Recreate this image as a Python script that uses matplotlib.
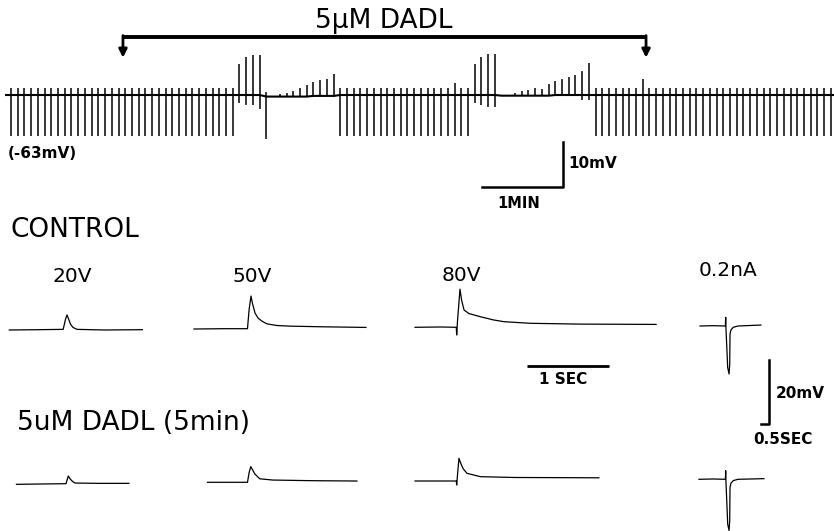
import numpy as np
import matplotlib.pyplot as plt

W, H = 834, 531

# ---- top chart recording: one stimulus every 5 s, mV relative to -63 mV ----
stim_interval = 5.0
pulse_up = ([1.6] * 34 + [6.9, 8.4, 8.9, 8.9] + [1.0] + [0.0]
            + [0.6, 0.7, 1.3, 1.8, 2.6, 3.2, 3.5, 3.8, 4.8]
            + [1.6] * 17 + [2.7] + [1.6] * 2
            + [7.0, 8.5, 9.1, 9.1] + [0.0, 0.0]
            + [0.6, 1.1, 1.3, 1.7, 1.5, 2.6, 3.2, 3.6, 3.9, 4.4, 5.4, 7.2]
            + [1.6] * 7 + [3.6] + [1.6] * 28)
pulse_down = ([-9.2] * 34 + [-1.8, -2.2, -2.2, -3.0] + [-9.4] + [0.0]
              + [0.0] * 8 + [-0.3]
              + [-9.2] * 20
              + [-1.7, -2.2, -2.6, -2.6] + [0.0, 0.0]
              + [0.0] * 10 + [-1.1, -1.1]
              + [-9.2] * 36)
pulse_base = ([0.0] * 38 + [-0.35] * 7 + [-0.2] * 4 + [0.0] * 24
              + [-0.15] * 8 + [0.0] * 42)
drug_on, drug_off = 83.3, 472.5      # s

# ---- evoked responses (time s from stimulus, mV from rest) ----
ctrl_20v_t = [-0.67, -0.3, -0.01, 0.02, 0.037, 0.055, 0.08, 0.11, 0.16, 0.5, 0.96]
ctrl_20v_v = [0.0, 0.1, 0.2, 3.5, 4.7, 3.5, 1.8, 0.8, 0.2, 0.0, 0.1]
ctrl_50v_t = [-0.665, -0.3, -0.01, 0.01, 0.033, 0.05, 0.082, 0.12, 0.17, 0.23, 0.35, 0.51, 0.9, 1.44]
ctrl_50v_v = [-0.1, 0.0, 0.0, 6.0, 10.2, 8.0, 4.9, 3.3, 2.3, 1.5, 1.0, 0.8, 0.6, 0.4]
ctrl_80v_t = [-0.51, -0.2, -0.005, 0.0, 0.01, 0.04, 0.06, 0.09, 0.15, 0.29, 0.45, 0.58, 0.9, 1.5, 2.44]
ctrl_80v_v = [0.0, 0.1, 0.0, -2.4, 2.0, 11.9, 8.5, 5.4, 4.3, 3.3, 2.3, 1.75, 1.25, 1.0, 0.9]
ctrl_na_t = [-1.6, -0.8, -0.02, 0.0, 0.01, 0.125, 0.21, 0.25, 0.27, 0.33, 0.475, 0.77, 2.2]
ctrl_na_v = [0.0, 0.1, 0.0, 2.7, 0.0, -13.0, -15.0, -12.0, -2.5, -1.2, -0.4, 0.0, 0.3]

dadl_20v_t = [-0.606, -0.3, 0.0, 0.028, 0.05, 0.08, 0.11, 0.4, 0.77]
dadl_20v_v = [-0.1, 0.0, 0.1, 2.5, 1.6, 0.8, 0.3, 0.2, 0.2]
dadl_50v_t = [-0.5, -0.01, 0.01, 0.03, 0.05, 0.08, 0.14, 0.3, 0.8, 1.33]
dadl_50v_v = [0.0, 0.0, 3.0, 4.9, 4.0, 2.6, 1.1, 0.7, 0.5, 0.4]
dadl_80v_t = [-0.51, -0.005, 0.0, 0.01, 0.028, 0.05, 0.08, 0.126, 0.29, 0.7, 1.74]
dadl_80v_v = [0.0, 0.0, -1.25, 2.0, 7.1, 5.5, 3.8, 2.4, 1.35, 1.1, 1.0]
dadl_na_t = [-1.67, -0.8, -0.02, 0.0, 0.01, 0.125, 0.21, 0.25, 0.27, 0.33, 0.475, 0.77, 2.39]
dadl_na_v = [0.0, 0.1, 0.0, 2.7, 0.0, -14.0, -16.0, -13.0, -2.5, -1.2, -0.4, 0.0, 0.2]

stim_labels = ['20V', '50V', '80V', '0.2nA']

fig = plt.figure(figsize=(8.34, 5.31), dpi=100)


def px_axes(x0, y0, x1, y1, tx, vy, sx, sy):
    # axes over a pixel box; (tx, vy) is where t=0, v=0 falls, sx/sy px per unit
    ax = fig.add_axes([x0 / W, 1 - y1 / H, (x1 - x0) / W, (y1 - y0) / H])
    ax.set_xlim((x0 - tx) / sx, (x1 - tx) / sx)
    ax.set_ylim((vy - y1) / sy, (vy - y0) / sy)
    ax.axis('off')
    return ax


def ftext(x, y, s, **kw):
    fig.text(x / W, 1 - y / H, s, **kw)


# ---- top trace ----
top = px_axes(0, 0, 834, 215, 11, 95, 1.344, 4.5)
t = stim_interval * np.arange(len(pulse_up))
up = np.array(pulse_up)
down = np.array(pulse_down)
base = np.array(pulse_base)
xl = top.get_xlim()
top.plot(np.r_[-3.7, t, xl[1]], np.r_[0, base, 0], color='k', lw=1.5)
m = up != down
top.vlines(t[m], base[m] + down[m], base[m] + up[m], color='k', lw=1.1)

# drug application bracket
top.plot([drug_on, drug_off], [12.9, 12.9], color='k', lw=2.8, solid_capstyle='butt')
for tt in (drug_on, drug_off):
    top.annotate('', xy=(tt, 8.3), xytext=(tt, 13.2),
                 arrowprops=dict(arrowstyle='-|>', color='k', lw=2.0,
                                 mutation_scale=12, shrinkA=0, shrinkB=0))
top.text((drug_on + drug_off) / 2 - 0.5, 14.8, '5μM DADL', fontsize=19,
         ha='center', va='baseline')

# 1 min / 10 mV bar
top.plot([350.4, 410.4, 410.4], [-20.4, -20.4, -10.4], color='k', lw=1.8)
ftext(8, 154, '(-63mV)', fontsize=11, fontweight='bold', va='center')
ftext(568, 163, '10mV', fontsize=11, fontweight='bold', va='center')
ftext(519, 203, '1MIN', fontsize=10.5, fontweight='bold', va='center', ha='center')

# ---- evoked responses ----
rows = [
    [(ctrl_20v_t, ctrl_20v_v), (ctrl_50v_t, ctrl_50v_v),
     (ctrl_80v_t, ctrl_80v_v), (ctrl_na_t, ctrl_na_v)],
    [(dadl_20v_t, dadl_20v_v), (dadl_50v_t, dadl_50v_v),
     (dadl_80v_t, dadl_80v_v), (dadl_na_t, dadl_na_v)],
]
stim_px = [[64, 248.3, 456.7, 725.7], [66, 248.3, 456.7, 725.7]]
base_px = [[330, 328.7, 327.3, 326], [484, 482.3, 481, 479.3]]

trace_axes = []
for r, row in enumerate(rows):
    axs = []
    for c, (tt, vv) in enumerate(row):
        sx = 16.0 if c == 3 else 81.7
        ax = px_axes(stim_px[r][c] - 260, base_px[r][c] - 70,
                     stim_px[r][c] + 260, base_px[r][c] + 110,
                     stim_px[r][c], base_px[r][c], sx, 3.2)
        ax.plot(tt, vv, color='k', lw=0.9)
        axs.append(ax)
    trace_axes.append(axs)

ftext(10, 236.7, 'CONTROL', fontsize=19, va='baseline')
ftext(17, 430, '5uM DADL (5min)', fontsize=19, va='baseline')
label_x = [72.5, 252.5, 461, 727.5]
label_y = [281.7, 281.7, 281, 276]
for lab, lx, ly in zip(stim_labels, label_x, label_y):
    ftext(lx, ly, lab, fontsize=14.5, ha='center', va='baseline')

# 1 SEC bar (control 80V time base)
ax80 = trace_axes[0][2]
ax80.plot([0.864, 1.864], [-12.0, -12.0], color='k', lw=2.0, solid_capstyle='butt')
ftext(563, 380, '1 SEC', fontsize=11, fontweight='bold', ha='center', va='center')

# 20 mV / 0.5 s bar (current-step time base)
axna = trace_axes[0][3]
axna.plot([2.21, 2.71, 2.71], [-30.6, -30.6, -10.6], color='k', lw=1.8)
ftext(775.7, 394, '20mV', fontsize=11, fontweight='bold', va='center')
ftext(783, 439, '0.5SEC', fontsize=11, fontweight='bold', ha='center', va='center')

fig.savefig('out.png', dpi=100)
